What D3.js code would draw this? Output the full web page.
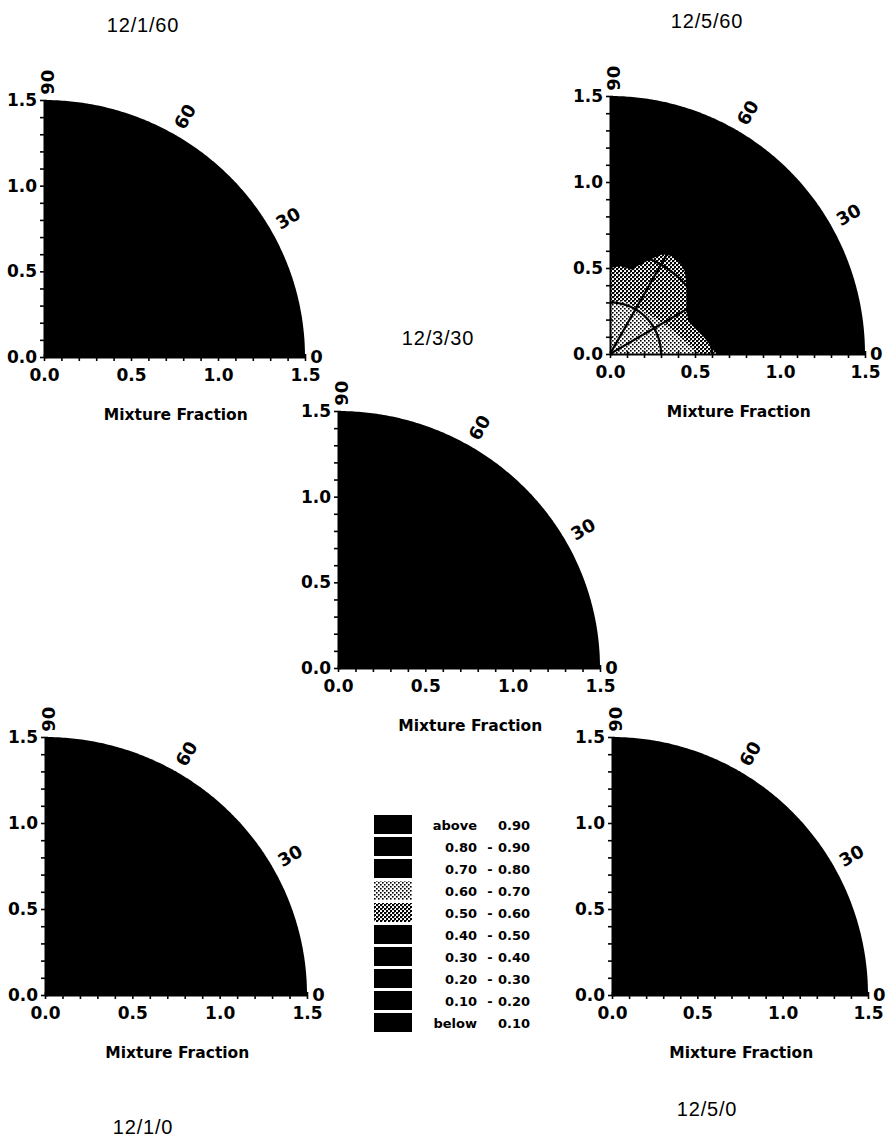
<!DOCTYPE html>
<html><head><meta charset="utf-8">
<script src="https://cdn.jsdelivr.net/npm/d3@7"></script>
<style>body{margin:0;background:#fff}</style>
</head><body>
<svg id="c" width="888" height="1140" xmlns="http://www.w3.org/2000/svg"></svg>
<script>
// ---------- data ----------
const panelTitles = ["12/1/60", "12/5/60", "12/3/30", "12/1/0", "12/5/0"];
const axisMax = 1.5;
const majorTicks = [0.0, 0.5, 1.0, 1.5];
const minorTicks = [0.1, 0.2, 0.3, 0.4, 0.6, 0.7, 0.8, 0.9, 1.1, 1.2, 1.3, 1.4];
const angleLabels = [0, 30, 60, 90];
const gridRadii = [0.3, 0.6, 0.9, 1.2];
const gridAngles = [30, 60];
const xAxisTitle = "Mixture Fraction";
const legendLow  = ["above", "0.80", "0.70", "0.60", "0.50", "0.40", "0.30", "0.20", "0.10", "below"];
const legendHigh = ["0.90", "0.90", "0.80", "0.70", "0.60", "0.50", "0.40", "0.30", "0.20", "0.10"];
// background class (legend row index) of each panel
const panelBaseClass = [9, 9, 9, 9, 9];
// contour regions of panel 12/5/60, in (x, y) data units
const tr5060 = [[0,0],[0,0.50],[0.06,0.51],[0.13,0.49],[0.16,0.51],[0.22,0.54],[0.26,0.56],[0.31,0.58],[0.36,0.57],[0.41,0.53],[0.44,0.48],[0.45,0.40],[0.45,0.26],[0.46,0.19],[0.50,0.15],[0.55,0.10],[0.59,0.05],[0.61,0.02],[0.63,0]];
const tr6070 = [[0,0],[0,0.30],[0.08,0.31],[0.18,0.26],[0.28,0.20],[0.38,0.13],[0.46,0.06],[0.52,0]];
const panelRegions = [[], [{cls: 4, pts: tr5060}, {cls: 3, pts: tr6070}], [], [], []];

// ---------- layout ----------
const layout = [
  {ox: 44,  oy: 357, rx: 261, ry: 257, tx: 143, ty: 32},
  {ox: 610, oy: 354, rx: 255, ry: 258, tx: 707, ty: 28},
  {ox: 338, oy: 668, rx: 262, ry: 257, tx: 438, ty: 345},
  {ox: 45,  oy: 995, rx: 262, ry: 258, tx: 143, ty: 1134},
  {ox: 612, oy: 995, rx: 256, ry: 258, tx: 707, ty: 1116}
];

const svg = d3.select("#c");
const defs = svg.append("defs");
// stipple patterns
const pLight = defs.append("pattern").attr("id", "p6070").attr("patternUnits", "userSpaceOnUse").attr("width", 4).attr("height", 4);
pLight.append("rect").attr("width", 4).attr("height", 4).attr("fill", "#fff");
pLight.append("rect").attr("x", 0).attr("y", 0).attr("width", 1.6).attr("height", 1.6).attr("fill", "#000");
pLight.append("rect").attr("x", 2).attr("y", 2).attr("width", 1.6).attr("height", 1.6).attr("fill", "#000");
const pDense = defs.append("pattern").attr("id", "p5060").attr("patternUnits", "userSpaceOnUse").attr("width", 4).attr("height", 4);
pDense.append("rect").attr("width", 4).attr("height", 4).attr("fill", "#fff");
pDense.append("rect").attr("x", 0).attr("y", 0).attr("width", 2.1).attr("height", 2.1).attr("fill", "#000");
pDense.append("rect").attr("x", 2).attr("y", 2).attr("width", 2.1).attr("height", 2.1).attr("fill", "#000");
pDense.append("rect").attr("x", 2).attr("y", 0).attr("width", 0.8).attr("height", 0.8).attr("fill", "#000");

const fillFor = c => c === 3 ? "url(#p6070)" : c === 4 ? "url(#p5060)" : "#000";

const boldFont = "'DejaVu Sans', sans-serif";
const rad = d => d * Math.PI / 180;

panelTitles.forEach((title, i) => {
  const L = layout[i];
  const x = d3.scaleLinear().domain([0, axisMax]).range([L.ox, L.ox + L.rx]);
  const y = d3.scaleLinear().domain([0, axisMax]).range([L.oy, L.oy - L.ry]);
  const line = d3.line().x(d => x(d[0])).y(d => y(d[1]));
  const g = svg.append("g");

  // quarter disk
  const arcPts = [[0, 0]].concat(d3.range(0, 90.01, 0.5).map(a => [axisMax * Math.cos(rad(a)), axisMax * Math.sin(rad(a))]));
  defs.append("clipPath").attr("id", "clip" + i).append("path").attr("d", line(arcPts) + "Z");
  g.append("path").attr("d", line(arcPts) + "Z").attr("fill", fillFor(panelBaseClass[i]));

  const cg = g.append("g").attr("clip-path", `url(#clip${i})`);
  panelRegions[i].forEach(r => {
    cg.append("path").attr("d", line(r.pts) + "Z").attr("fill", fillFor(r.cls));
  });
  // polar grid
  gridRadii.forEach(r => {
    const pts = d3.range(0, 90.01, 1).map(a => [r * Math.cos(rad(a)), r * Math.sin(rad(a))]);
    cg.append("path").attr("d", line(pts)).attr("fill", "none").attr("stroke", "#000").attr("stroke-width", 2.2);
  });
  gridAngles.forEach(a => {
    cg.append("path").attr("d", line([[0, 0], [axisMax * Math.cos(rad(a)), axisMax * Math.sin(rad(a))]]))
      .attr("fill", "none").attr("stroke", "#000").attr("stroke-width", 2.2);
  });

  // axes
  const allTicks = majorTicks.concat(minorTicks).sort((a, b) => a - b);
  const fmt = d => majorTicks.some(m => Math.abs(m - d) < 1e-9) ? d.toFixed(1) : "";
  const ax = g.append("g").attr("transform", `translate(0,${L.oy})`)
    .call(d3.axisBottom(x).tickValues(allTicks).tickSize(4).tickSizeOuter(0).tickPadding(8).tickFormat(fmt));
  const ay = g.append("g").attr("transform", `translate(${L.ox},0)`)
    .call(d3.axisLeft(y).tickValues(allTicks).tickSize(4).tickSizeOuter(0).tickPadding(3).tickFormat(fmt));
  [ax, ay].forEach(a => {
    a.select(".domain").attr("stroke", "#000").attr("stroke-width", 2);
    a.selectAll(".tick line").attr("stroke", "#000").attr("stroke-width", 1.6);
    a.selectAll(".tick text").attr("fill", "#000").attr("font-family", boldFont)
      .attr("font-weight", "bold").attr("font-size", 17);
  });
  ax.selectAll(".tick line").attr("y1", -3);
  ay.selectAll(".tick line").attr("x1", 3);

  // angle labels
  angleLabels.forEach(a => {
    const r = (a === 0 || a === 90) ? 1.53 : 1.62;
    const px = x(r * Math.cos(rad(a))) + (a === 90 ? 4 : 0);
    const py = y(r * Math.sin(rad(a)));
    g.append("text").text(a)
      .attr("transform", `translate(${px},${py}) rotate(${-a})`)
      .attr("text-anchor", (a === 0 || a === 90) ? "start" : "middle")
      .attr("dy", "0.36em")
      .attr("font-family", boldFont).attr("font-weight", "bold").attr("font-size", 18)
      .attr("fill", "#000");
  });

  // axis title
  g.append("text").text(xAxisTitle)
    .attr("x", L.ox + L.rx * 0.505).attr("y", L.oy + 63)
    .attr("text-anchor", "middle").attr("font-family", boldFont).attr("font-weight", "bold")
    .attr("font-size", 15.5).attr("fill", "#000");

  // panel title
  svg.append("text").text(title)
    .attr("x", L.tx).attr("y", L.ty).attr("text-anchor", "middle")
    .attr("font-family", "'Liberation Sans', Arial, sans-serif").attr("font-size", 20)
    .attr("letter-spacing", 0.8).attr("fill", "#000");
});

// legend
const lg = svg.append("g");
legendLow.forEach((lo, i) => {
  const top = 815 + i * 22;
  lg.append("rect").attr("x", 374).attr("y", top).attr("width", 38).attr("height", 19).attr("fill", fillFor(i));
  const t = lg.append("g").attr("font-family", boldFont).attr("font-weight", "bold").attr("font-size", 13).attr("fill", "#000");
  t.append("text").text(lo).attr("x", 477).attr("y", top + 15).attr("text-anchor", "end");
  if (i > 0 && i < legendLow.length - 1) t.append("text").text("-").attr("x", 490).attr("y", top + 15).attr("text-anchor", "middle");
  t.append("text").text(legendHigh[i]).attr("x", 498).attr("y", top + 15).attr("text-anchor", "start");
});
</script>
</body></html>
